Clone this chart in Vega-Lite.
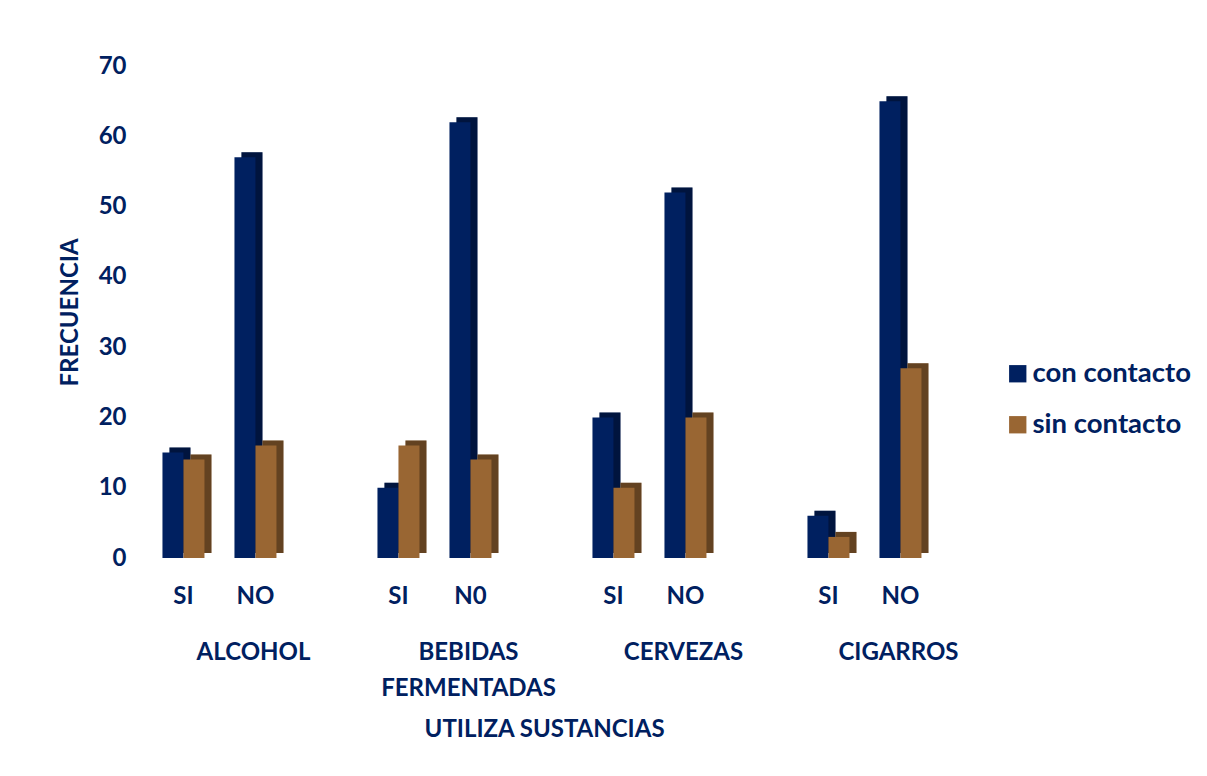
{
  "$schema": "https://vega.github.io/schema/vega-lite/v6.json",
  "autosize": {"type": "pad"},
  "padding": {"left": 58, "top": 54, "right": 5, "bottom": 5},
  "background": "white",
  "title": {
    "text": "UTILIZA SUSTANCIAS",
    "orient": "bottom",
    "anchor": "middle",
    "frame": "bounds",
    "dx": -80,
    "offset": 17,
    "font": "Lato",
    "fontSize": 24,
    "fontWeight": "bold",
    "color": "#002060"
  },
  "data": {
    "values": [
      {"sustancia": "ALCOHOL", "uso": "SI", "serie": "con contacto", "frecuencia": 15},
      {"sustancia": "ALCOHOL", "uso": "SI", "serie": "sin contacto", "frecuencia": 14},
      {"sustancia": "ALCOHOL", "uso": "NO", "serie": "con contacto", "frecuencia": 57},
      {"sustancia": "ALCOHOL", "uso": "NO", "serie": "sin contacto", "frecuencia": 16},
      {"sustancia": "BEBIDAS FERMENTADAS", "uso": "SI", "serie": "con contacto", "frecuencia": 10},
      {"sustancia": "BEBIDAS FERMENTADAS", "uso": "SI", "serie": "sin contacto", "frecuencia": 16},
      {"sustancia": "BEBIDAS FERMENTADAS", "uso": "N0", "serie": "con contacto", "frecuencia": 62},
      {"sustancia": "BEBIDAS FERMENTADAS", "uso": "N0", "serie": "sin contacto", "frecuencia": 14},
      {"sustancia": "CERVEZAS", "uso": "SI", "serie": "con contacto", "frecuencia": 20},
      {"sustancia": "CERVEZAS", "uso": "SI", "serie": "sin contacto", "frecuencia": 10},
      {"sustancia": "CERVEZAS", "uso": "NO", "serie": "con contacto", "frecuencia": 52},
      {"sustancia": "CERVEZAS", "uso": "NO", "serie": "sin contacto", "frecuencia": 20},
      {"sustancia": "CIGARROS", "uso": "SI", "serie": "con contacto", "frecuencia": 6},
      {"sustancia": "CIGARROS", "uso": "SI", "serie": "sin contacto", "frecuencia": 3},
      {"sustancia": "CIGARROS", "uso": "NO", "serie": "con contacto", "frecuencia": 65},
      {"sustancia": "CIGARROS", "uso": "NO", "serie": "sin contacto", "frecuencia": 27}
    ]
  },
  "facet": {
    "column": {
      "field": "sustancia",
      "type": "nominal",
      "sort": ["ALCOHOL", "BEBIDAS FERMENTADAS", "CERVEZAS", "CIGARROS"],
      "title": null,
      "header": {
        "labelOrient": "bottom",
        "labelExpr": "datum.value == 'BEBIDAS FERMENTADAS' ? ['BEBIDAS', 'FERMENTADAS'] : datum.value",
        "labelFont": "Lato",
        "labelFontSize": 24,
        "labelFontWeight": "bold",
        "labelColor": "#002060",
        "labelLineHeight": 36,
        "labelPadding": 33
      }
    }
  },
  "spacing": 0,
  "resolve": {"scale": {"x": "independent", "xOffset": "independent"}},
  "spec": {
    "width": 215,
    "height": 492,
    "encoding": {
      "x": {
        "field": "uso",
        "type": "nominal",
        "sort": ["SI", "NO", "N0"],
        "scale": {"paddingInner": 0.4167, "paddingOuter": 0.7014, "align": 0.163},
        "axis": {
          "title": null,
          "domain": false,
          "ticks": false,
          "labelAngle": 0,
          "labelPadding": 26,
          "labelFont": "Lato",
          "labelFontSize": 24,
          "labelFontWeight": "bold",
          "labelColor": "#002060"
        }
      },
      "y": {
        "field": "frecuencia",
        "type": "quantitative",
        "scale": {"domain": [0, 70], "nice": false},
        "axis": {
          "title": "FRECUENCIA",
          "values": [0, 10, 20, 30, 40, 50, 60, 70],
          "domain": false,
          "ticks": false,
          "grid": false,
          "labelPadding": 20,
          "labelFont": "Lato",
          "labelFontSize": 24,
          "labelFontWeight": "bold",
          "labelColor": "#002060",
          "titleFont": "Lato",
          "titleFontSize": 24,
          "titleFontWeight": "bold",
          "titleColor": "#002060",
          "titlePadding": 16
        }
      },
      "color": {
        "field": "serie",
        "type": "nominal",
        "scale": {"domain": ["con contacto", "sin contacto"], "range": ["#002060", "#996633"]},
        "legend": {
          "title": null,
          "orient": "none",
          "legendX": 858,
          "legendY": 294,
          "symbolType": "square",
          "symbolSize": 300,
          "symbolStrokeWidth": 0,
          "labelFont": "Lato",
          "labelFontSize": 27.5,
          "labelFontWeight": "bold",
          "labelColor": "#002060",
          "rowPadding": 22,
          "labelOffset": 1
        }
      }
    },
    "layer": [
      {
        "mark": {"type": "bar", "yOffset": -5, "y2Offset": -5},
        "encoding": {
          "xOffset": {"field": "serie", "type": "nominal", "sort": ["con contacto", "sin contacto"], "scale": {"range": [7, 49]}}
        }
      },
      {
        "mark": {"type": "bar", "yOffset": -5, "y2Offset": -5, "color": "black", "opacity": 0.35},
        "encoding": {
          "color": {"value": "black"},
          "xOffset": {"field": "serie", "type": "nominal", "sort": ["con contacto", "sin contacto"], "scale": {"range": [7, 49]}}
        }
      },
      {
        "mark": {"type": "bar"},
        "encoding": {
          "xOffset": {"field": "serie", "type": "nominal", "sort": ["con contacto", "sin contacto"]}
        }
      }
    ],
    "resolve": {"scale": {"xOffset": "independent"}}
  },
  "config": {
    "view": {"stroke": null},
    "font": "Lato"
  }
}
